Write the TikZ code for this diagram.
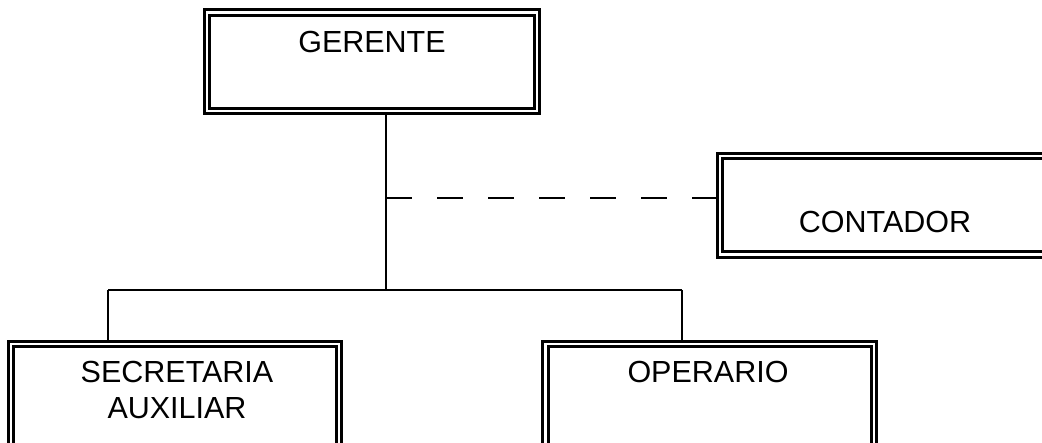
\documentclass[tikz,border=0pt]{standalone}
\usepackage{fontspec}
\setmainfont{Liberation Sans}
\usetikzlibrary{backgrounds}
\begin{document}
\begin{tikzpicture}[x=1pt,y=-1pt,
  dbox/.style={draw=black,line width=3pt,double=white,double distance=2.5pt,inner sep=0pt,outer sep=0pt},
  lbl/.style={font=\fontsize{30.5}{36}\selectfont,anchor=base,inner sep=0pt},
  conn/.style={line width=1.6pt,draw=black},
  dashconn/.style={conn,dash pattern=on 26pt off 25pt}]
\useasboundingbox (0,0) rectangle (1042,443);
\clip (0,0) rectangle (1042,443);
% boxes
\node[dbox,minimum width=330pt,minimum height=98.5pt] (g) at (372,61.75) {};
\node[dbox,minimum width=350pt,minimum height=98.5pt] (c) at (895,205.25) {};
\node[dbox,minimum width=328pt,minimum height=176pt] (s) at (175,432) {};
\node[dbox,minimum width=328.5pt,minimum height=176pt] (o) at (709.75,432) {};
% labels
\node[lbl] (gt) at (372,53) {GERENTE};
\node[lbl] (ct) at (885,233) {CONTADOR};
\node[lbl] (st1) at (177,383) {SECRETARIA};
\node[lbl] (st2) at (177,419) {AUXILIAR};
\node[lbl] (ot) at (708,383) {OPERARIO};
% connectors
\coordinate (j) at (386,290);
\coordinate (d) at (386,198);
\coordinate (l) at (108,290);
\coordinate (r) at (682,290);
\begin{pgfonlayer}{background}
\draw[conn] (j |- g.south) -- (j);
\draw[conn] (l) -- (r);
\draw[conn] (l) -- (l |- s.north);
\draw[conn] (r) -- (r |- o.north);
\draw[dashconn] (d) -- (d -| c.west);
\end{pgfonlayer}
\end{tikzpicture}
\end{document}
